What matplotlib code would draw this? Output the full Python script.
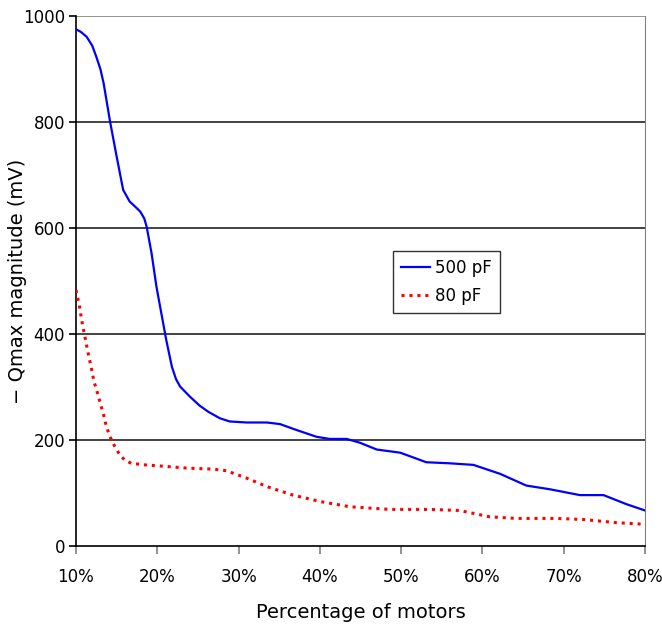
import matplotlib.pyplot as plt
from matplotlib.ticker import FuncFormatter

# percentage of motors (%) and -Qmax magnitude (mV)
x_500 = [10, 10.6, 11.3, 12.0, 12.5, 13.0, 13.4, 14.2, 15.0, 15.8, 16.6, 17.3,
         17.9, 18.4, 18.7, 19.3, 19.9, 20.5, 21.1, 21.8, 22.3, 22.8, 24.0, 25.2,
         26.3, 27.7, 28.9, 31.0, 33.5, 35.1, 37.1, 39.6, 41.2, 43.3, 44.9, 47.0,
         49.9, 53.1, 56.0, 58.9, 62.2, 65.4, 68.3, 72.0, 74.9, 77.7, 80]
y_500 = [975, 970, 961, 944, 923, 900, 873, 800, 735, 672, 650, 640,
         631, 618, 602, 552, 489, 439, 389, 338, 315, 301, 282, 265,
         253, 241, 235, 233, 233, 230, 219, 206, 202, 202, 195, 182,
         176, 158, 156, 153, 136, 114, 107, 96, 96, 79, 67]

x_80 = [10, 10.4, 10.7, 11.0, 11.3, 11.6, 11.9, 12.2, 12.6, 13.0, 13.4, 13.7,
        14.1, 14.4, 14.9, 15.4, 16.0, 16.8, 18.5, 20.3, 23.6, 26.9, 28.5, 31.0,
        33.5, 36.7, 40.0, 43.7, 48.6, 53.5, 57.2, 60.9, 64.2, 69.1, 72.4, 76.5, 80]
y_80 = [483, 455, 426, 402, 379, 356, 335, 311, 291, 269, 247, 228,
        209, 199, 184, 172, 162, 156, 153, 151, 147, 145, 142, 128,
        112, 96, 84, 74, 69, 69, 67, 55, 52, 52, 50, 44, 41]

x_ticks = [10, 20, 30, 40, 50, 60, 70, 80]
y_ticks = [0, 200, 400, 600, 800, 1000]

plt.rcParams['font.family'] = ['DejaVu Sans']

fig = plt.figure(figsize=(6.62, 6.28), dpi=100)
ax = fig.add_axes([0.1148, 0.1306, 0.8595, 0.8439])

for yv in y_ticks[1:]:
    ax.axhline(yv, color='#222222' if yv < 1000 else '#808080', lw=1.2, zorder=1)

ax.plot(x_500, y_500, color='#0000ff', lw=1.6, label='500 pF', zorder=3,
        solid_joinstyle='round')
ax.plot(x_80, y_80, color='#ff0000', lw=2.2, linestyle=(0, (1, 1.6)),
        label='80 pF', zorder=3)

ax.set_xlim(10, 80)
ax.set_ylim(0, 1000)
ax.set_xticks(x_ticks)
ax.set_yticks(y_ticks)
ax.xaxis.set_major_formatter(FuncFormatter(lambda v, p: '%d%%' % v))

ax.spines['top'].set_visible(False)
ax.spines['right'].set_color('#808080')
ax.spines['left'].set_color('black')
ax.spines['bottom'].set_color('black')
ax.spines['left'].set_linewidth(1.2)
ax.spines['bottom'].set_linewidth(1.2)

ax.tick_params(axis='x', direction='out', length=6, width=1.2, color='#808080',
               pad=10, labelsize=12)
ax.tick_params(axis='y', direction='out', length=5, width=1.2, color='black',
               pad=3, labelsize=12)

ax.set_xlabel('Percentage of motors', fontsize=14)
ax.set_ylabel('− Qmax magnitude (mV)', fontsize=14)
ax.xaxis.set_label_coords(0.5, -0.126)
ax.xaxis.label.set_va('center')
ax.yaxis.set_label_coords(-0.102, 0.5)
ax.yaxis.label.set_va('center')

leg = ax.legend(loc='upper left', bbox_to_anchor=(0.557, 0.557), fontsize=12,
                frameon=True, fancybox=False, edgecolor='black',
                handlelength=1.7, handletextpad=0.3, borderpad=0.5,
                labelspacing=0.6, borderaxespad=0)
leg.get_frame().set_linewidth(1.0)

fig.savefig('out.png', dpi=100)
